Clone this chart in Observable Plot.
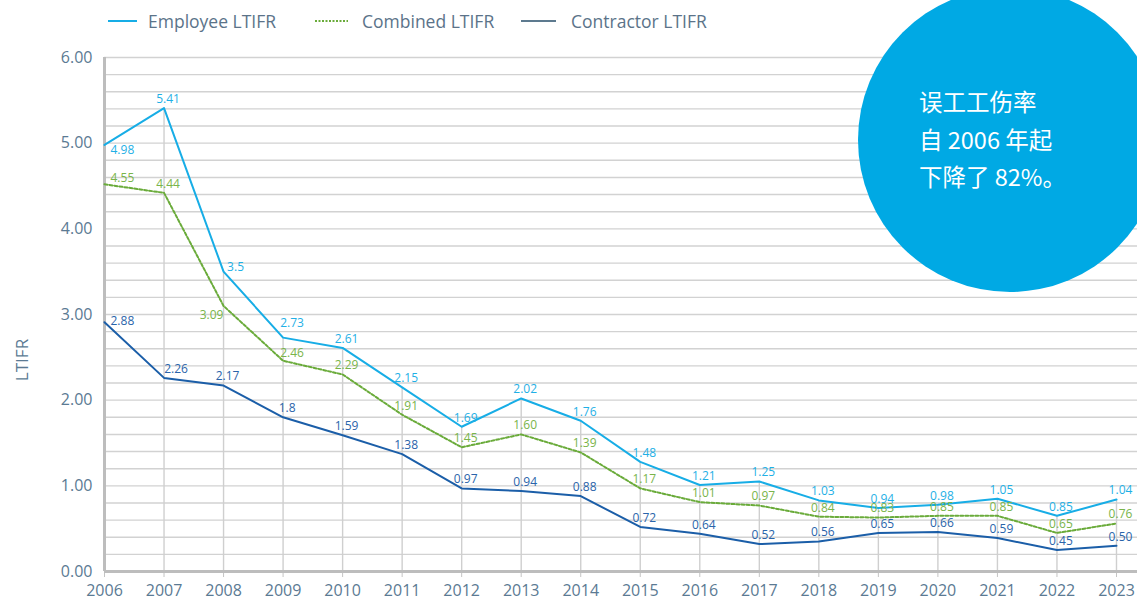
<!DOCTYPE html>
<html>
<head>
<meta charset="utf-8">
<script src="https://cdn.jsdelivr.net/npm/d3@7"></script>
<script src="https://cdn.jsdelivr.net/npm/@observablehq/plot@0.6"></script>
<style>
  html, body { margin: 0; padding: 0; background: #fff; }
  #wrap { position: relative; width: 1137px; height: 599px; overflow: hidden; background: #fff; font-family: "Open Sans", sans-serif; }
  #legend { position: relative; height: 40px; }
  .lg-text { position: absolute; top: 9px; font-size: 17.5px; line-height: 24px; color: #5b7389; white-space: nowrap; }
  .lg-sw { position: absolute; top: 12px; }
  #ylabel { position: absolute; left: 21px; top: 360px; transform: translate(-50%, -50%) rotate(-90deg); font-size: 17px; color: #5b7a93; white-space: nowrap; }
  #callout { position: absolute; left: 858px; top: -12px; width: 304px; height: 304px; border-radius: 50%; background: #00a9e4; }
  #callout-text { position: absolute; left: 919px; top: 83px; font-family: "Noto Sans CJK SC", "Noto Sans", sans-serif; font-size: 23.5px; line-height: 37.5px; color: #fff; white-space: nowrap; }
</style>
</head>
<body>
<div id="wrap">
  <div id="legend"></div>
  <div id="chart"></div>
  <div id="ylabel">LTIFR</div>
  <div id="callout"></div>
  <div id="callout-text"></div>
</div>
<script>
// ---- data ----
const years = [2006, 2007, 2008, 2009, 2010, 2011, 2012, 2013, 2014, 2015, 2016, 2017, 2018, 2019, 2020, 2021, 2022, 2023];
const seriesNames = ["Employee LTIFR", "Combined LTIFR", "Contractor LTIFR"];
// plotted line values (as drawn)
const employeeValues   = [4.98, 5.41, 3.50, 2.73, 2.61, 2.15, 1.69, 2.02, 1.76, 1.28, 1.01, 1.05, 0.83, 0.74, 0.78, 0.85, 0.65, 0.84];
const combinedValues   = [4.52, 4.42, 3.10, 2.46, 2.30, 1.83, 1.45, 1.60, 1.39, 0.97, 0.81, 0.77, 0.64, 0.63, 0.65, 0.65, 0.45, 0.56];
const contractorValues = [2.91, 2.26, 2.17, 1.80, 1.59, 1.37, 0.97, 0.94, 0.88, 0.52, 0.44, 0.32, 0.35, 0.45, 0.46, 0.39, 0.25, 0.30];
// data label texts (as printed)
const employeeLabels   = ["4.98", "5.41", "3.5", "2.73", "2.61", "2.15", "1.69", "2.02", "1.76", "1.48", "1.21", "1.25", "1.03", "0.94", "0.98", "1.05", "0.85", "1.04"];
const combinedLabels   = ["4.55", "4.44", "3.09", "2.46", "2.29", "1.91", "1.45", "1.60", "1.39", "1.17", "1.01", "0.97", "0.84", "0.83", "0.85", "0.85", "0.65", "0.76"];
const contractorLabels = ["2.88", "2.26", "2.17", "1.8", "1.59", "1.38", "0.97", "0.94", "0.88", "0.72", "0.64", "0.52", "0.56", "0.65", "0.66", "0.59", "0.45", "0.50"];
const yTicks = [0, 1, 2, 3, 4, 5, 6];
const calloutLines = ["误工工伤率", "自 2006 年起", "下降了 82%。"];

// ---- styles ----
const lineColors  = {"Employee LTIFR": "#17ade6", "Combined LTIFR": "#6aab3a", "Contractor LTIFR": "#1b5ea8"};
const labelColors = {"Employee LTIFR": "#1fb0e6", "Combined LTIFR": "#79b44a", "Contractor LTIFR": "#2a64aa"};
const legendSwatch = {"Employee LTIFR": "#17ade6", "Combined LTIFR": "#6aab3a", "Contractor LTIFR": "#5d7a8f"};

const valuesBy = [employeeValues, combinedValues, contractorValues];
const labelsBy = [employeeLabels, combinedLabels, contractorLabels];
const rows = [];
seriesNames.forEach((s, si) => years.forEach((y, i) => rows.push({series: s, year: y, value: valuesBy[si][i], label: labelsBy[si][i]})));

// label placement (styling only)
function placement(r) {
  if (r.year === 2006) {
    const dy = r.series === "Employee LTIFR" ? 5 : r.series === "Combined LTIFR" ? -6 : -1;
    return {anchor: "start", dx: 6, dy};
  }
  if (r.year === 2008 && r.series === "Combined LTIFR") return {anchor: "middle", dx: -12, dy: 9};
  if (r.year === 2008 && r.series === "Employee LTIFR") return {anchor: "middle", dx: 12, dy: -5};
  if (r.year === 2007 && r.series === "Contractor LTIFR") return {anchor: "middle", dx: 12, dy: -9};
  if (r.year === 2009 && r.series !== "Contractor LTIFR") return {anchor: "middle", dx: 9, dy: r.series === "Employee LTIFR" ? -14 : -8};
  return {anchor: "middle", dx: 4, dy: -9};
}
const groups = d3.groups(rows, r => JSON.stringify(placement(r)));
const labelMarks = groups.map(([key, rs]) => {
  const p = JSON.parse(key);
  return Plot.text(rs, {x: "year", y: "value", text: "label", fill: r => labelColors[r.series],
    textAnchor: p.anchor, dx: p.dx, dy: p.dy, fontSize: 12});
});

const dropRows = rows.filter(r => r.series === "Employee LTIFR" && r.year !== 2006);

const chart = Plot.plot({
  width: 1137, height: 559,
  marginTop: 17, marginBottom: 28, marginLeft: 104, marginRight: 0,
  x: {domain: [2006, 2023.353]},
  y: {domain: [0, 6]},
  style: {fontFamily: "'Open Sans', sans-serif", fontSize: "16px", color: "#5b7a93", background: "transparent", overflow: "visible"},
  marks: [
    Plot.ruleY(d3.ticks(0, 6, 30).filter(v => v > 0), {stroke: "#d2d2d2", strokeWidth: 1.4}),
    Plot.ruleX(dropRows, {x: "year", y1: 0, y2: "value", stroke: "#cfcfcf", strokeWidth: 1.4}),
    Plot.axisX({ticks: years, tickFormat: d => String(d), tickSize: 6, tickPadding: 7, stroke: "#c4c4c4", fill: "#5b7a93", label: null}),
    Plot.axisY({ticks: yTicks, tickFormat: d => d.toFixed(2), tickSize: 0, tickPadding: 12, fill: "#5b7a93", label: null}),
    Plot.ruleY([0], {stroke: "#bdbdbd", strokeWidth: 3}),
    Plot.ruleX([years[0]], {y1: 0, y2: 6, stroke: "#bdbdbd", strokeWidth: 3}),
    Plot.line(rows.filter(r => r.series === "Employee LTIFR"), {x: "year", y: "value", stroke: lineColors["Employee LTIFR"], strokeWidth: 2}),
    Plot.line(rows.filter(r => r.series === "Combined LTIFR"), {x: "year", y: "value", stroke: lineColors["Combined LTIFR"], strokeWidth: 2, strokeDasharray: "3,2"}),
    Plot.line(rows.filter(r => r.series === "Contractor LTIFR"), {x: "year", y: "value", stroke: lineColors["Contractor LTIFR"], strokeWidth: 2}),
    ...labelMarks
  ]
});
document.getElementById("chart").append(chart);

// legend
const legend = document.getElementById("legend");
const legendPos = [{sw: 108, w: 29, tx: 148}, {sw: 315, w: 33, tx: 362}, {sw: 521, w: 35, tx: 571}];
seriesNames.forEach((s, i) => {
  const p = legendPos[i];
  const ns = "http://www.w3.org/2000/svg";
  const svg = document.createElementNS(ns, "svg");
  svg.setAttribute("class", "lg-sw");
  svg.setAttribute("width", p.w); svg.setAttribute("height", 18);
  svg.style.left = p.sw + "px";
  const ln = document.createElementNS(ns, "line");
  ln.setAttribute("x1", 0); ln.setAttribute("x2", p.w); ln.setAttribute("y1", 9); ln.setAttribute("y2", 9);
  ln.setAttribute("stroke", legendSwatch[s]); ln.setAttribute("stroke-width", 2);
  if (s === "Combined LTIFR") ln.setAttribute("stroke-dasharray", "2,1.5");
  svg.append(ln);
  legend.append(svg);
  const t = document.createElement("div");
  t.className = "lg-text"; t.style.left = p.tx + "px"; t.textContent = s;
  legend.append(t);
});

document.getElementById("callout-text").innerHTML = calloutLines.map(l => `<div>${l}</div>`).join("");
</script>
</body>
</html>
